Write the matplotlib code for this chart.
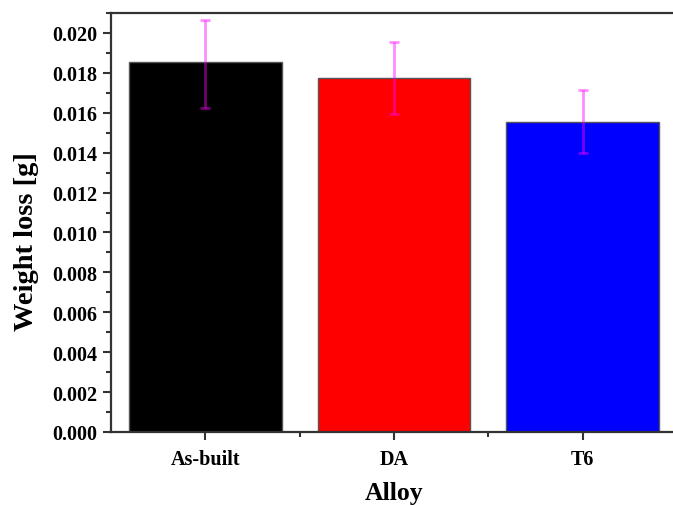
import numpy as np
import matplotlib.pyplot as plt
from matplotlib.ticker import MultipleLocator, FixedLocator

# data
alloys = ["As-built", "DA", "T6"]
weight_loss = [0.01852, 0.01773, 0.01555]
err_low = [0.01624, 0.01594, 0.01397]
err_high = [0.02065, 0.01957, 0.01715]
bar_colors = ["#000000", "#ff0000", "#0000ff"]

plt.rcParams['font.family'] = ['Liberation Serif', 'DejaVu Serif']
plt.rcParams['font.weight'] = 'bold'

fig = plt.figure(figsize=(6.73, 5.06), dpi=100)
ax = fig.add_axes([0.165, 0.1443, 0.841, 0.828])

x = np.arange(len(alloys))
yerr = [np.array(weight_loss) - np.array(err_low),
        np.array(err_high) - np.array(weight_loss)]

ax.bar(x, weight_loss, width=0.81, color=bar_colors, edgecolor="#555555", linewidth=1.0, zorder=2)
ax.errorbar(x, weight_loss, yerr=yerr, fmt="none", ecolor="#ff00ff", alpha=0.45,
            elinewidth=2, capsize=3.5, capthick=2, zorder=3)

ax.set_xlim(-0.5, 2.5)
ax.set_ylim(0, 0.021)
ax.set_xticks(x)
ax.set_xticklabels(alloys, fontsize=14.5, fontweight='bold')
ax.xaxis.set_minor_locator(FixedLocator([0.5, 1.5]))
ax.yaxis.set_major_locator(MultipleLocator(0.002))
ax.yaxis.set_minor_locator(MultipleLocator(0.001))
ax.yaxis.set_major_formatter(plt.FormatStrFormatter('%.3f'))
for lbl in ax.get_yticklabels():
    lbl.set_fontsize(14.5)
    lbl.set_fontweight('bold')

ax.tick_params(which='major', direction='out', length=6, width=1.5, color='#333333', pad=4)
ax.tick_params(which='minor', direction='out', length=3.5, width=1.5, color='#333333')
ax.tick_params(axis='x', which='major', pad=6)
for s in ax.spines.values():
    s.set_linewidth(1.6)
    s.set_color('#333333')

ax.set_xlabel("Alloy", fontsize=18.5, fontweight='bold', labelpad=9)
ax.set_ylabel("Weight loss [g]", fontsize=20.5, fontweight='bold')
ax.yaxis.set_label_coords(-0.128, 0.456)

fig.savefig("out.png", dpi=100)
